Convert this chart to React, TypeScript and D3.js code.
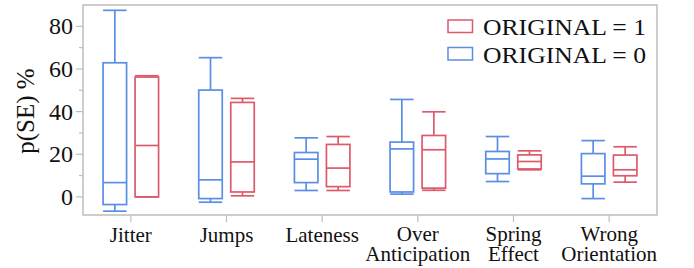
import React, { useEffect, useRef } from 'react';
import * as d3 from 'd3';

const categories = ['Jitter', 'Jumps', 'Lateness', 'Over\nAnticipation', 'Spring\nEffect', 'Wrong\nOrientation'];

// ORIGINAL = 0 (blue)
const blueLow = [-6.7, -2.5, 3.0, 1.3, 7.2, -0.8];
const blueQ1 = [-3.6, -0.8, 6.7, 2.3, 10.9, 6.1];
const blueMed = [6.7, 8.0, 17.7, 22.5, 17.8, 9.7];
const blueQ3 = [62.9, 50.1, 20.8, 25.7, 21.3, 20.3];
const blueHigh = [87.5, 65.3, 27.7, 45.7, 28.3, 26.4];

// ORIGINAL = 1 (red)
const redLow = [0, 0.5, 3.0, 3.1, 12.7, 6.9];
const redQ1 = [0, 2.3, 4.8, 4.1, 13.1, 9.9];
const redMed = [24.1, 16.4, 13.5, 22.1, 16.6, 12.7];
const redQ3 = [56.2, 44.3, 24.6, 28.8, 19.7, 19.6];
const redHigh = [56.8, 46.2, 28.3, 39.9, 21.6, 23.5];

const yTicks = [0, 20, 40, 60, 80];
const yMinorTicks = [10, 30, 50, 70];
const legendLabels = ['ORIGINAL = 1', 'ORIGINAL = 0'];

const BLUE = '#5a8ee6';
const RED = '#dd5a6c';
const GRID = '#bdbdbd';
const FONT = '"Liberation Serif", serif';

const App = () => {
  const ref = useRef<SVGSVGElement>(null);

  useEffect(() => {
    const svg = d3.select(ref.current);
    svg.selectAll('*').remove();

    const width = 694;
    const height = 268;
    const margin = { top: 5, right: 37, bottom: 53, left: 83 };

    const x = d3
      .scaleBand()
      .domain(categories)
      .range([margin.left, width - margin.right]);

    const y = d3
      .scaleLinear()
      .domain([-8.5, 90])
      .range([height - margin.bottom, margin.top]);

    // frame
    svg.append('rect')
      .attr('x', margin.left)
      .attr('y', margin.top)
      .attr('width', width - margin.right - margin.left)
      .attr('height', height - margin.bottom - margin.top)
      .attr('fill', 'none')
      .attr('stroke', GRID)
      .attr('stroke-width', 1.5);

    // y ticks
    const yAxis = svg.append('g');
    yAxis.selectAll('.major')
      .data(yTicks)
      .join('line')
      .attr('x1', margin.left - 7)
      .attr('x2', margin.left)
      .attr('y1', d => y(d))
      .attr('y2', d => y(d))
      .attr('stroke', GRID)
      .attr('stroke-width', 1.2);
    yAxis.selectAll('.minor')
      .data(yMinorTicks)
      .join('line')
      .attr('x1', margin.left - 4)
      .attr('x2', margin.left)
      .attr('y1', d => y(d))
      .attr('y2', d => y(d))
      .attr('stroke', GRID)
      .attr('stroke-width', 1.2);
    yAxis.selectAll('text')
      .data(yTicks)
      .join('text')
      .attr('x', margin.left - 10)
      .attr('y', d => y(d))
      .attr('dy', '0.34em')
      .attr('text-anchor', 'end')
      .attr('font-family', FONT)
      .attr('font-size', 24)
      .attr('fill', '#111')
      .text(d => d);

    // y label
    svg.append('text')
      .attr('transform', `translate(34,${111}) rotate(-90)`)
      .attr('text-anchor', 'middle')
      .attr('font-family', FONT)
      .attr('font-size', 25)
      .attr('fill', '#111')
      .text('p(SE) %');

    // x ticks + labels
    const xAxis = svg.append('g');
    xAxis.selectAll('line')
      .data(categories)
      .join('line')
      .attr('x1', d => x(d)! + x.bandwidth() / 2)
      .attr('x2', d => x(d)! + x.bandwidth() / 2)
      .attr('y1', height - margin.bottom)
      .attr('y2', height - margin.bottom + 7)
      .attr('stroke', GRID)
      .attr('stroke-width', 1.2);
    categories.forEach(c => {
      const lines = c.split('\n');
      lines.forEach((l, i) => {
        xAxis.append('text')
          .attr('x', x(c)! + x.bandwidth() / 2)
          .attr('y', (lines.length > 1 ? 241 : 242) + i * 20)
          .attr('text-anchor', 'middle')
          .attr('font-family', FONT)
          .attr('font-size', 21)
          .attr('fill', '#111')
          .text(l);
      });
    });

    const boxW = 23.5;
    const off = 16;
    const series = [
      { color: BLUE, dx: -off, low: blueLow, q1: blueQ1, med: blueMed, q3: blueQ3, high: blueHigh },
      { color: RED, dx: off, low: redLow, q1: redQ1, med: redMed, q3: redQ3, high: redHigh },
    ];

    series.forEach(s => {
      const g = svg.append('g')
        .attr('stroke', s.color)
        .attr('stroke-width', 1.7)
        .attr('fill', 'none');
      categories.forEach((c, i) => {
        const cx = x(c)! + x.bandwidth() / 2 + s.dx;
        const x0 = cx - boxW / 2;
        const x1 = cx + boxW / 2;
        // whiskers
        g.append('line').attr('x1', cx).attr('x2', cx).attr('y1', y(s.high[i])).attr('y2', y(s.q3[i]));
        g.append('line').attr('x1', cx).attr('x2', cx).attr('y1', y(s.q1[i])).attr('y2', y(s.low[i]));
        g.append('line').attr('x1', x0).attr('x2', x1).attr('y1', y(s.high[i])).attr('y2', y(s.high[i]));
        g.append('line').attr('x1', x0).attr('x2', x1).attr('y1', y(s.low[i])).attr('y2', y(s.low[i]));
        // box
        g.append('rect')
          .attr('x', x0)
          .attr('y', y(s.q3[i]))
          .attr('width', boxW)
          .attr('height', y(s.q1[i]) - y(s.q3[i]));
        g.append('line').attr('x1', x0).attr('x2', x1).attr('y1', y(s.med[i])).attr('y2', y(s.med[i]));
      });
    });

    // legend
    const legendColors = [RED, BLUE];
    const lg = svg.append('g');
    legendLabels.forEach((l, i) => {
      lg.append('rect')
        .attr('x', 448)
        .attr('y', 20 + i * 27.5)
        .attr('width', 24.5)
        .attr('height', 12.5)
        .attr('fill', 'none')
        .attr('stroke', legendColors[i])
        .attr('stroke-width', 1.5);
      lg.append('text')
        .attr('x', 483)
        .attr('y', 35 + i * 27.5)
        .attr('font-family', FONT)
        .attr('font-size', 24)
        .attr('fill', '#111')
        .attr('textLength', 163)
        .attr('lengthAdjust', 'spacingAndGlyphs')
        .text(l);
    });
  }, []);

  return (
    <svg
      ref={ref}
      width={694}
      height={268}
      style={{ position: 'absolute', left: 0, top: 0, background: '#fff' }}
    />
  );
};

export default App;
